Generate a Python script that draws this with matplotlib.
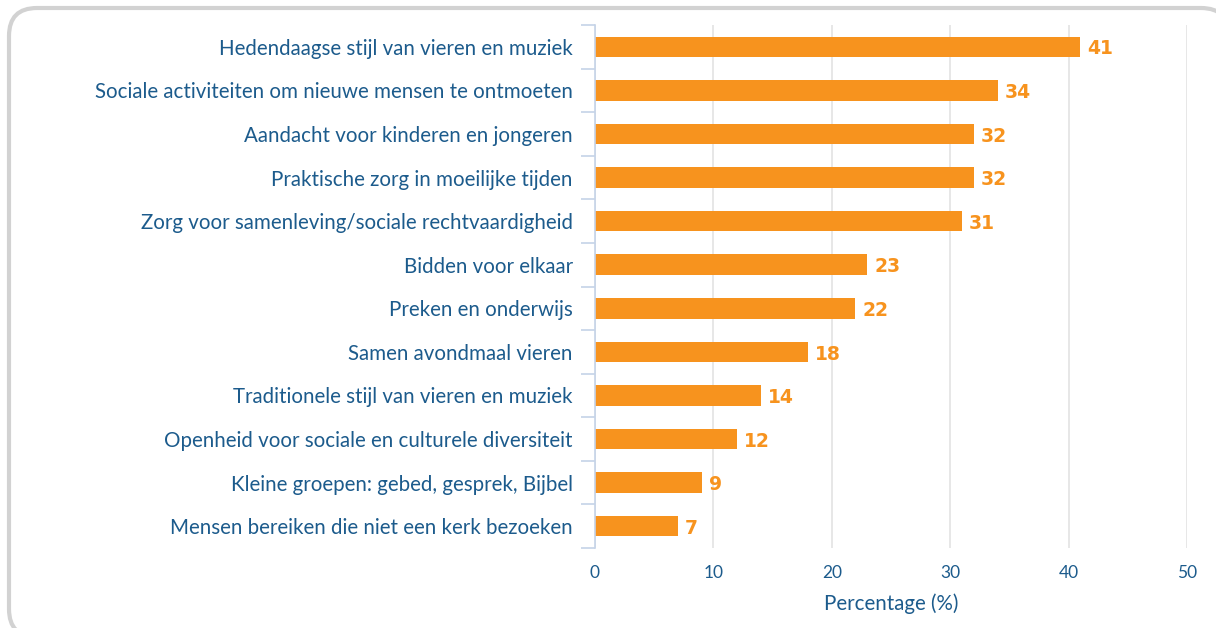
import matplotlib
matplotlib.use('Agg')
from matplotlib import pyplot as plt
from matplotlib.patches import FancyBboxPatch
from matplotlib.ticker import FixedLocator

categories = [
    'Hedendaagse stijl van vieren en muziek',
    'Sociale activiteiten om nieuwe mensen te ontmoeten',
    'Aandacht voor kinderen en jongeren',
    'Praktische zorg in moeilijke tijden',
    'Zorg voor samenleving/sociale rechtvaardigheid',
    'Bidden voor elkaar',
    'Preken en onderwijs',
    'Samen avondmaal vieren',
    'Traditionele stijl van vieren en muziek',
    'Openheid voor sociale en culturele diversiteit',
    'Kleine groepen: gebed, gesprek, Bijbel',
    'Mensen bereiken die niet een kerk bezoeken',
]
percentages = [41, 34, 32, 32, 31, 23, 22, 18, 14, 12, 9, 7]
xticks = [0, 10, 20, 30, 40, 50]

textColor = '#1c5b8c'
barColor = '#f7931e'
spineColor = '#c5d3e8'
gridColor = '#e3e3e3'

plt.rcParams['font.family'] = ['Lato', 'DejaVu Sans']

figure = plt.figure(figsize=(12.16, 6.28), dpi=100)

# rounded frame round the whole chart (runs off the right and bottom edge)
frame = FancyBboxPatch((9, -9), 1220, 629, boxstyle='round,pad=0,rounding_size=28',
                       transform=None, facecolor='white', edgecolor='#d2d2d2',
                       linewidth=3, zorder=-1)
figure.patches.append(frame)

axis = figure.add_axes([595 / 1216, 1 - 548 / 628, 592 / 1216, 523 / 628])
axis.set_facecolor('none')

positions = list(range(len(categories)))
axis.barh(positions, percentages, height=0.47, color=barColor, zorder=2)

for position, value in zip(positions, percentages):
    axis.text(value + 0.6, position + 0.05, str(value), va='center', ha='left',
              color=barColor, fontsize=13.5, fontweight='bold',
              family='DejaVu Sans')

axis.set_ylim(len(categories) - 0.5, -0.5)
axis.set_xlim(0, 50)

axis.set_yticks(positions)
axis.set_yticklabels(categories)
axis.yaxis.set_minor_locator(FixedLocator([p - 0.5 for p in range(len(categories) + 1)]))
axis.tick_params(axis='y', which='major', length=0, pad=16, labelsize=14.8, labelcolor=textColor)
axis.tick_params(axis='y', which='minor', length=10, width=1.2, color=spineColor)

axis.set_xticks(xticks)
axis.tick_params(axis='x', which='major', length=0, pad=12, labelsize=12.5, labelcolor=textColor)
axis.set_xlabel('Percentage (%)', color=textColor, fontsize=14.8, labelpad=9)

axis.grid(axis='x', color=gridColor, linewidth=1.2, zorder=0)
axis.set_axisbelow(True)

for side in ('top', 'right', 'bottom'):
    axis.spines[side].set_visible(False)
axis.spines['left'].set_color(spineColor)
axis.spines['left'].set_linewidth(1.2)

plt.savefig('out.png', dpi=100)
